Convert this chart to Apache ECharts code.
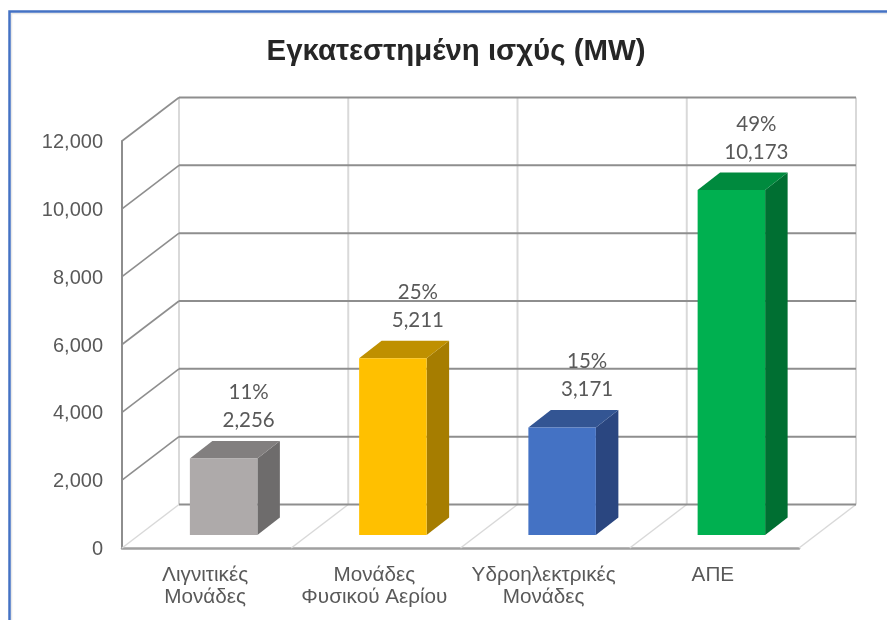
<!DOCTYPE html>
<html>
<head>
<meta charset="utf-8">
<script src="https://cdn.jsdelivr.net/npm/echarts@6/dist/echarts.min.js"></script>
<style>html,body{margin:0;padding:0;background:#fff}#c{width:887px;height:620px}</style>
</head>
<body>
<div id="c"></div>
<script>
const categories = ['Λιγνιτικές\nΜονάδες', 'Μονάδες\nΦυσικού Αερίου', 'Υδροηλεκτρικές\nΜονάδες', 'ΑΠΕ'];
const values = [2256, 5211, 3171, 10173];
const shares = ['11%', '25%', '15%', '49%'];
const ticks = [0, 2000, 4000, 6000, 8000, 10000, 12000];
const boundaries = [0, 1, 2, 3, 4];
const frontColors = ['#AEAAAA', '#FFC000', '#4472C4', '#00B050'];
const topColors = ['#827F7F', '#BF9000', '#335593', '#008A3E'];
const sideColors = ['#6E6C6C', '#A67D00', '#2A4680', '#006F32'];

const DX = 57, DY = 43.5;        // depth of the 3D box
const BAR_OX = 17, BAR_OY = 13;  // bar front face offset from the front plane
const BAR_W = 67.5, BAR_DX = 22.5, BAR_DY = 17.5;
const DARK = '#8E8E8E', LIGHT = '#D9D9D9', TXT = '#595959';

const line = (x1, y1, x2, y2, stroke, lineWidth) => ({
  type: 'line', shape: {x1, y1, x2, y2}, style: {stroke, lineWidth, fill: null}, silent: true
});
const poly = (points, fill) => ({
  type: 'polygon', shape: {points}, style: {fill, stroke: null}, silent: true
});

const option = {
  animation: false,
  backgroundColor: '#fff',
  title: {
    text: 'Εγκατεστημένη ισχύς (MW)', left: 451, top: 32, textAlign: 'center',
    textStyle: {fontFamily: 'Liberation Sans', fontSize: 29.4, fontWeight: 'bold', color: '#262626'}
  },
  graphic: [{
    type: 'polyline', silent: true, z: 99,
    shape: {points: [[11.5, 620], [11.5, 13.5], [887, 13.5]]},
    style: {stroke: '#E8E8E8', lineWidth: 1.5, fill: null}
  }, {
    type: 'polyline', silent: true, z: 100,
    shape: {points: [[9.5, 620], [9.5, 11.5], [887, 11.5]]},
    style: {stroke: '#4472C4', lineWidth: 2.5, fill: null}
  }],
  grid: {left: 122, right: 88, top: 141, bottom: 72},
  xAxis: {
    type: 'category', data: categories, boundaryGap: true,
    axisLine: {show: true, lineStyle: {color: '#A0A0A0', width: 2.5}},
    axisTick: {show: false},
    axisLabel: {color: TXT, fontFamily: 'Liberation Sans', fontSize: 20.7, lineHeight: 22, margin: 16, interval: 0, padding: [0, 3, 0, 0]}
  },
  yAxis: {
    type: 'value', min: 0, max: 12000, interval: 2000,
    axisLine: {show: true, lineStyle: {color: DARK, width: 2}},
    axisTick: {show: false},
    splitLine: {show: false},
    axisLabel: {
      color: TXT, fontFamily: 'Liberation Sans', fontSize: 20, margin: 19,
      verticalAlign: 'top', lineHeight: 3,
      formatter: v => v.toLocaleString('en-US')
    }
  },
  series: [
    {
      // Light verticals on the back wall and floor
      type: 'custom', coordinateSystem: 'cartesian2d', z: 1, silent: true,
      encode: {x: 0, y: 1},
      data: boundaries.map(b => [b, 0]),
      renderItem(params, api) {
        const s = params.coordSys, b = api.value(0);
        const x = s.x + s.width * b / categories.length, yB = s.y + s.height;
        return {type: 'group', children: [
          line(x + DX, s.y - DY, x + DX, yB - DY, LIGHT, 2),
          line(x, yB, x + DX, yB - DY, LIGHT, 1.5)
        ]};
      }
    },
    {
      // Horizontal value lines on side and back walls
      type: 'custom', coordinateSystem: 'cartesian2d', z: 2, silent: true,
      encode: {y: 1},
      data: ticks.map(t => [0, t]),
      renderItem(params, api) {
        const s = params.coordSys, t = api.value(1);
        const y = api.coord([0, t])[1], x0 = s.x, xR = s.x + s.width;
        const kids = [line(x0 + DX, y - DY, xR + DX, y - DY, DARK, 2)];
        if (t > 0) kids.push(line(x0, y, x0 + DX, y - DY, DARK, 1.6));
        return {type: 'group', children: kids};
      }
    },
    {
      // 3D bars
      type: 'custom', coordinateSystem: 'cartesian2d', z: 5, silent: true,
      encode: {x: 0, y: 1},
      data: values.map((v, i) => [i, v]),
      renderItem(params, api) {
        const i = api.value(0);
        const top = api.coord([i, api.value(1)]), base = api.coord([i, 0]);
        const l = top[0] + BAR_OX - BAR_W / 2, r = l + BAR_W;
        const t = top[1] - BAR_OY, b = base[1] - BAR_OY;
        return {type: 'group', children: [
          poly([[r, t], [r + BAR_DX, t - BAR_DY], [r + BAR_DX, b - BAR_DY], [r, b]], sideColors[i]),
          poly([[l, t], [l + BAR_DX, t - BAR_DY], [r + BAR_DX, t - BAR_DY], [r, t]], topColors[i]),
          poly([[l, t], [r, t], [r, b], [l, b]], frontColors[i]),
          {
            type: 'text', silent: true,
            style: {
              x: top[0] + BAR_OX + 25, y: t - 24,
              text: shares[i] + '\n' + values[i].toLocaleString('en-US'),
              align: 'center', verticalAlign: 'bottom',
              fontFamily: 'Lato', fontSize: 20.5, lineHeight: 28, fill: TXT
            }
          }
        ]};
      }
    }
  ]
};
const chart = echarts.init(document.getElementById('c'), null, {renderer: 'canvas'});
chart.setOption(option);
</script>
</body>
</html>
